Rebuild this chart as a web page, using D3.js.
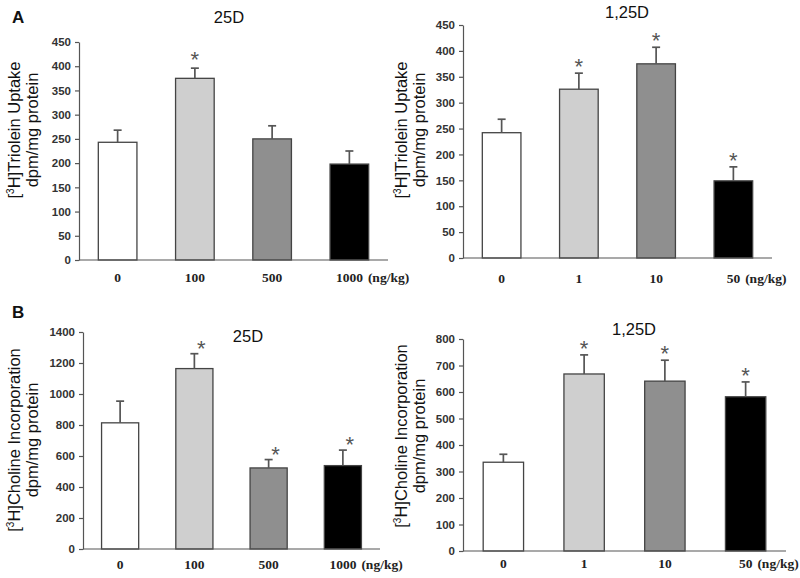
<!DOCTYPE html>
<html>
<head>
<meta charset="utf-8">
<script src="https://cdn.jsdelivr.net/npm/d3@7"></script>
<style>
  html, body { margin: 0; padding: 0; background: #fff; }
  svg { display: block; }
</style>
</head>
<body>
<svg id="chart" width="800" height="578"></svg>
<script>
// ---------------- DATA ----------------
const doses25 = ["0", "100", "500", "1000"];
const doses125 = ["0", "1", "10", "50"];
const doseUnit = "(ng/kg)";

const triolein25Mean = [243, 375, 250, 198];
const triolein25SE   = [25, 21, 27, 27];
const triolein25Sig  = [false, true, false, false];

const triolein125Mean = [242, 326, 375, 149];
const triolein125SE   = [26, 31, 32, 27];
const triolein125Sig  = [false, true, true, true];

const choline25Mean = [814, 1164, 523, 538];
const choline25SE   = [140, 96, 54, 100];
const choline25Sig  = [false, true, true, true];

const choline125Mean = [335, 668, 641, 582];
const choline125SE   = [30, 72, 79, 56];
const choline125Sig  = [false, true, true, true];

const trioleinTicks = [0, 50, 100, 150, 200, 250, 300, 350, 400, 450];
const choline25Ticks = [0, 200, 400, 600, 800, 1000, 1200, 1400];
const choline125Ticks = [0, 100, 200, 300, 400, 500, 600, 700, 800];

const barFills = ["#ffffff", "#cfcfcf", "#8f8f8f", "#000000"];

// ---------------- LAYOUT ----------------
const panels = [
  { cats: doses25, mean: triolein25Mean, se: triolein25SE, sig: triolein25Sig, ticks: trioleinTicks,
    x0: 79, x1: 388, yTop: 42, yBot: 260, title: "25D", tx: 229, ty: 23, sdx: 0, sdy: -1,
    lab1: "Triolein Uptake", lx: 20, ly: 130, xlabY: 282 },
  { cats: doses125, mean: triolein125Mean, se: triolein125SE, sig: triolein125Sig, ticks: trioleinTicks,
    x0: 463, x1: 772, yTop: 25, yBot: 258, title: "1,25D", tx: 627, ty: 18, sdx: 0, sdy: 1,
    lab1: "Triolein Uptake", lx: 407, ly: 130, xlabY: 283 },
  { cats: doses25, mean: choline25Mean, se: choline25SE, sig: choline25Sig, ticks: choline25Ticks,
    x0: 83, x1: 380, yTop: 332, yBot: 549, title: "25D", tx: 248, ty: 342, sdx: 7, sdy: 2,
    lab1: "Choline Incorporation", lx: 20, ly: 440, xlabY: 569 },
  { cats: doses125, mean: choline125Mean, se: choline125SE, sig: choline125Sig, ticks: choline125Ticks,
    x0: 463, x1: 786, yTop: 339, yBot: 551, title: "1,25D", tx: 634, ty: 335, sdx: 0, sdy: 1,
    lab1: "Choline Incorporation", lx: 407, ly: 436, xlabY: 568 }
];

const svg = d3.select("#chart");
const axisColor = "#555";
const sans = "Liberation Sans, Arial, sans-serif";
const serif = "Liberation Serif, Times New Roman, serif";

// Panel letters
svg.append("text").attr("x", 12).attr("y", 23).text("A")
  .attr("font-family", sans).attr("font-weight", "bold")
  .attr("font-size", 17).attr("fill", "#111");
svg.append("text").attr("x", 12).attr("y", 318).text("B")
  .attr("font-family", sans).attr("font-weight", "bold")
  .attr("font-size", 17).attr("fill", "#111");

panels.forEach(p => {
  const g = svg.append("g");
  const x = d3.scaleBand().domain(p.cats).range([p.x0, p.x1]).paddingInner(0.5).paddingOuter(0.25);
  const yMax = p.ticks[p.ticks.length - 1];
  const y = d3.scaleLinear().domain([0, yMax]).range([p.yBot, p.yTop]);

  // bars
  const idx = d3.range(p.cats.length);
  g.selectAll("rect.bar").data(idx).join("rect")
    .attr("class", "bar")
    .attr("x", i => x(p.cats[i]))
    .attr("width", x.bandwidth())
    .attr("y", i => y(p.mean[i]))
    .attr("height", i => y(0) - y(p.mean[i]))
    .attr("fill", i => barFills[i])
    .attr("stroke", "#444").attr("stroke-width", 1.3);

  // error bars (upper only)
  idx.forEach(i => {
    const cx = x(p.cats[i]) + x.bandwidth() / 2;
    const top = y(p.mean[i] + p.se[i]);
    g.append("line").attr("x1", cx).attr("x2", cx)
      .attr("y1", y(p.mean[i])).attr("y2", top)
      .attr("stroke", "#555").attr("stroke-width", 1.7);
    g.append("line").attr("x1", cx - 4).attr("x2", cx + 4)
      .attr("y1", top).attr("y2", top)
      .attr("stroke", "#555").attr("stroke-width", 1.7);
    if (p.sig[i]) {
      g.append("text").attr("x", cx + p.sdx).attr("y", top + p.sdy)
        .attr("text-anchor", "middle")
        .attr("font-family", sans)
        .attr("font-size", 22).attr("fill", "#555").text("*");
    }
  });

  // y axis
  const ya = g.append("g").attr("transform", `translate(${p.x0},0)`)
    .call(d3.axisLeft(y).tickValues(p.ticks).tickSize(4).tickSizeOuter(0).tickPadding(4).tickFormat(d3.format("d")));
  ya.select(".domain").attr("stroke", axisColor).attr("stroke-width", 1.2);
  ya.selectAll(".tick line").attr("stroke", axisColor).attr("stroke-width", 1.2);
  ya.selectAll(".tick text")
    .attr("font-family", sans)
    .attr("font-weight", "bold").attr("font-size", 11.5).attr("fill", "#333");

  // x axis line
  g.append("line").attr("x1", p.x0).attr("x2", p.x1)
    .attr("y1", p.yBot).attr("y2", p.yBot)
    .attr("stroke", axisColor).attr("stroke-width", 1.2);

  // x labels
  let lastEnd = 0;
  p.cats.forEach((c, i) => {
    const cx = x(c) + x.bandwidth() / 2;
    const t = g.append("text").attr("x", cx).attr("y", p.xlabY)
      .attr("text-anchor", "middle")
      .attr("font-family", serif)
      .attr("font-weight", "bold").attr("font-size", 13.5).attr("fill", "#222").text(c);
    if (i === p.cats.length - 1) lastEnd = cx + t.node().getComputedTextLength() / 2;
  });
  g.append("text").attr("x", lastEnd + 5).attr("y", p.xlabY)
    .attr("font-family", serif)
    .attr("font-weight", "bold").attr("font-size", 13.5).attr("fill", "#222").text(doseUnit);

  // title
  g.append("text").attr("x", p.tx).attr("y", p.ty).attr("text-anchor", "middle")
    .attr("font-family", sans)
    .attr("font-size", 16.5).attr("fill", "#111").text(p.title);

  // y label (two lines, rotated)
  const yl = g.append("text")
    .attr("transform", `translate(${p.lx},${p.ly}) rotate(-90)`)
    .attr("text-anchor", "middle")
    .attr("font-family", sans)
    .attr("font-size", 16.5).attr("fill", "#111");
  yl.append("tspan").text("[");
  yl.append("tspan").attr("font-size", 10).attr("dy", -6).text("3");
  yl.append("tspan").attr("dy", 6).text("H]" + p.lab1);
  g.append("text")
    .attr("transform", `translate(${p.lx + 18},${p.ly}) rotate(-90)`)
    .attr("text-anchor", "middle")
    .attr("font-family", sans)
    .attr("font-size", 16.5).attr("fill", "#111").text("dpm/mg protein");
});
</script>
</body>
</html>
